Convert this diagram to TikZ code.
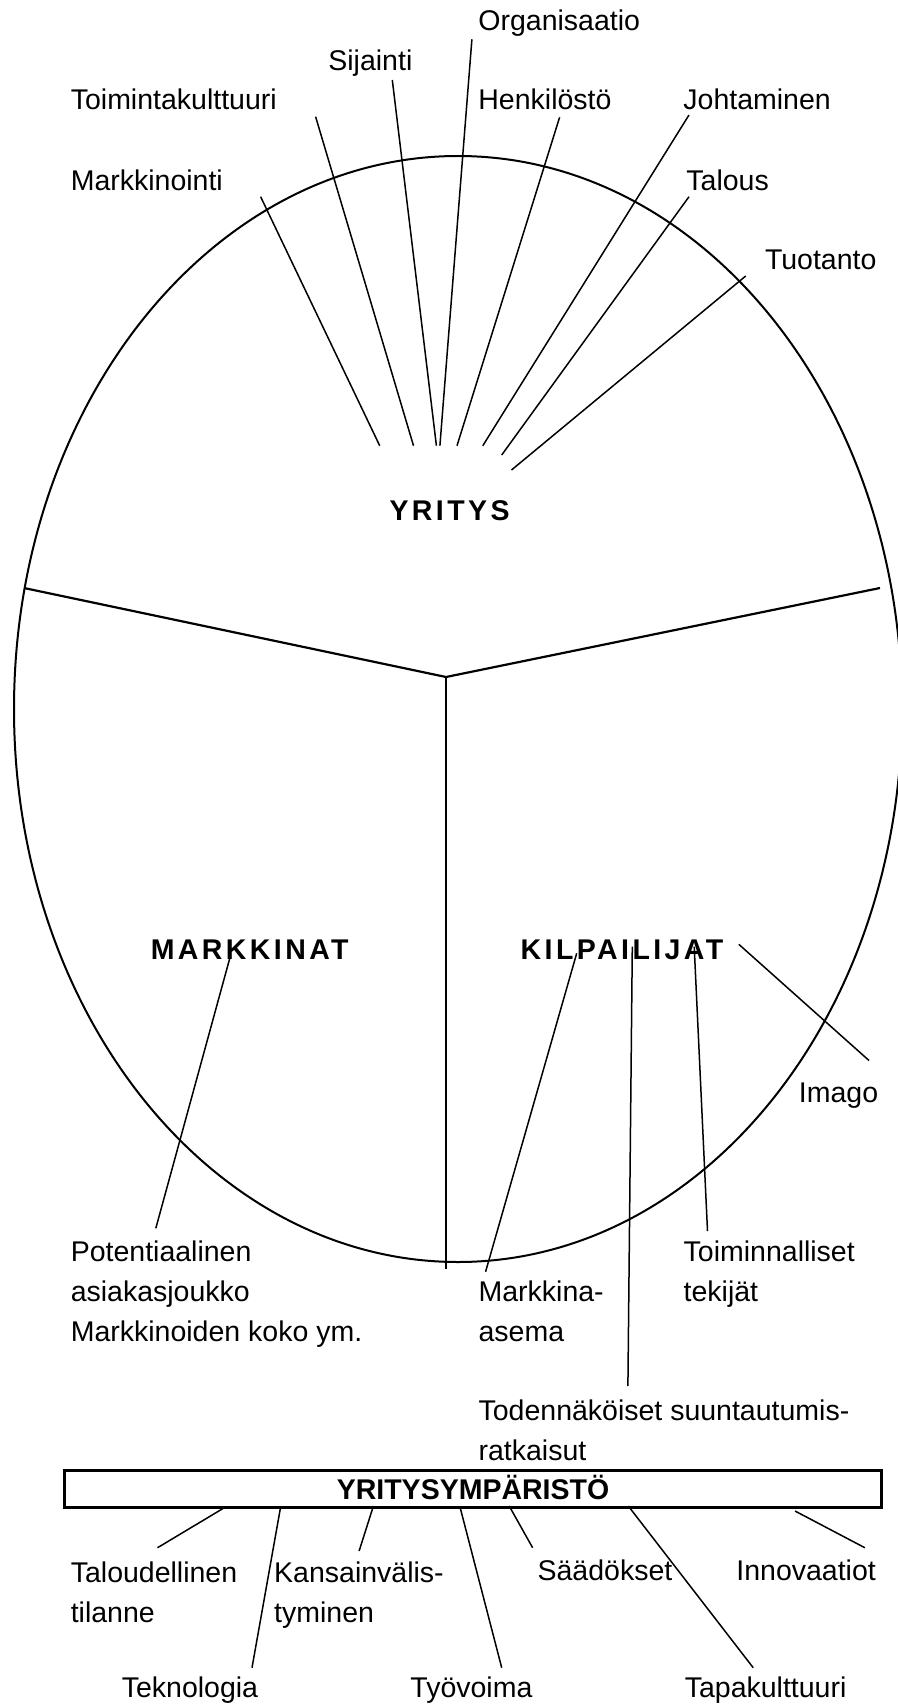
\documentclass[tikz,border=0pt]{standalone}
\usepackage{fontspec}
\setmainfont{Liberation Sans}
\newfontfamily\spacedsans{Liberation Sans}[LetterSpace=12]
\begin{document}
\begin{tikzpicture}[x=0.5pt,y=-0.5pt,
  lbl/.style={anchor=base west, inner sep=0pt, font=\fontsize{14.25}{20}\selectfont},
  ttl/.style={anchor=base, inner sep=0pt, font=\fontsize{14.25}{20}\selectfont\spacedsans\bfseries},
  conn/.style={line width=0.75pt},
  envbox/.style={draw, line width=1.5pt, inner sep=0pt, minimum width=408.5pt,
    minimum height=18.5pt, text height=10pt, text depth=0pt,
    font=\fontsize{14.25}{20}\selectfont\bfseries}]
\useasboundingbox (0,0) rectangle (898,1706);

% the company oval
\draw[line width=1pt] (458,709) ellipse [x radius=222pt, y radius=276.5pt];

% the three sectors
\coordinate (hub) at (446,677);
\coordinate (yl) at (24,588);
\coordinate (yr) at (880,588);
\coordinate (yb) at (446,1269);
\draw[line width=1.1pt] (yl) -- (hub) -- (yr);
\draw[conn] (hub) -- (yb);

% sector titles
\node[ttl] (yritys) at (449.6,520.7) {YRITYS};
\node[ttl] (markkinat) at (249.7,959) {MARKKINAT};
\node[ttl] (kilpailijat) at (622,959) {KILPAILIJAT};

% company functions
\node[lbl] (org) at (478,31) {Organisaatio};
\node[lbl] (sij) at (328,70.7) {Sijainti};
\node[lbl] (toim) at (70.4,110) {Toimintakulttuuri};
\node[lbl] (henk) at (478,110) {Henkilöstö};
\node[lbl] (joht) at (683,110) {Johtaminen};
\node[lbl] (mark) at (70.4,190.7) {Markkinointi};
\node[lbl] (tal) at (686,190.7) {Talous};
\node[lbl] (tuot) at (764.6,269.3) {Tuotanto};

\coordinate (mark-a) at (260.6,196.7); \coordinate (mark-b) at (379.7,445.7);
\coordinate (toim-a) at (315.6,116.7); \coordinate (toim-b) at (413.5,445.7);
\coordinate (sij-a) at (392.3,80);     \coordinate (sij-b) at (436.4,445.7);
\coordinate (org-a) at (471.9,39.3);   \coordinate (org-b) at (439.9,445.7);
\coordinate (henk-a) at (559.6,117.3); \coordinate (henk-b) at (457,445.7);
\coordinate (joht-a) at (689,115);     \coordinate (joht-b) at (482.8,445.7);
\coordinate (tal-a) at (689,196.7);    \coordinate (tal-b) at (501.7,455);
\coordinate (tuot-a) at (745.7,276);   \coordinate (tuot-b) at (511.5,470);
\foreach \k in {mark,toim,sij,org,henk,joht,tal,tuot}
  \draw[conn] (\k-a) -- (\k-b);

% markets and competitors
\node[lbl] (pot) at (70.4,1261) {\begin{tabular}[t]{@{}l@{}}Potentiaalinen\\asiakasjoukko\\Markkinoiden koko ym.\end{tabular}};
\node[lbl] (masema) at (478.2,1301) {\begin{tabular}[t]{@{}l@{}}Markkina-\\asema\end{tabular}};
\node[lbl] (tekijat) at (683.3,1261) {\begin{tabular}[t]{@{}l@{}}Toiminnalliset\\tekijät\end{tabular}};
\node[lbl] (imago) at (798.5,1102) {Imago};
\node[lbl] (toden) at (478.2,1420) {\begin{tabular}[t]{@{}l@{}}Todennäköiset suuntautumis-\\ratkaisut\end{tabular}};

\coordinate (pot-a) at (230.2,956.7);   \coordinate (pot-b) at (155.8,1228.3);
\coordinate (masema-a) at (576.7,953.3); \coordinate (masema-b) at (485.6,1271.7);
\coordinate (toden-a) at (632.3,946.7); \coordinate (toden-b) at (627.9,1386);
\coordinate (tekijat-a) at (694.2,946.7); \coordinate (tekijat-b) at (707.5,1231);
\coordinate (imago-a) at (738.8,944.3); \coordinate (imago-b) at (869,1060.5);
\foreach \k in {pot,masema,toden,tekijat,imago}
  \draw[conn] (\k-a) -- (\k-b);

% business environment
\node[envbox] (env) at (473,1489) {YRITYSYMPÄRISTÖ};

\node[lbl] (talt) at (70.4,1582) {\begin{tabular}[t]{@{}l@{}}Taloudellinen\\tilanne\end{tabular}};
\node[lbl] (kans) at (273.8,1582) {\begin{tabular}[t]{@{}l@{}}Kansainvälis-\\tyminen\end{tabular}};
\node[lbl] (saad) at (537.2,1580) {Säädökset};
\node[lbl] (inno) at (736,1580) {Innovaatiot};
\node[lbl] (tekn) at (121.4,1697.7) {Teknologia};
\node[lbl] (tyov) at (410,1697.7) {Työvoima};
\node[lbl] (tapa) at (684.4,1697.7) {Tapakulttuuri};

\coordinate (talt-a) at (225,1507.3);  \coordinate (talt-b) at (157.5,1547.7);
\coordinate (tekn-a) at (280.6,1507);  \coordinate (tekn-b) at (252,1667.7);
\coordinate (kans-a) at (373.4,1506);  \coordinate (kans-b) at (359.1,1551);
\coordinate (tyov-a) at (460,1507);    \coordinate (tyov-b) at (501.7,1667.7);
\coordinate (saad-a) at (509.2,1506);  \coordinate (saad-b) at (532.6,1547.7);
\coordinate (tapa-a) at (628.3,1506);  \coordinate (tapa-b) at (753.2,1667.7);
\coordinate (inno-a) at (795,1511);    \coordinate (inno-b) at (864.8,1547.7);
\foreach \k in {talt,tekn,kans,tyov,saad,tapa,inno}
  \draw[conn] (\k-a) -- (\k-b);
\end{tikzpicture}
\end{document}
